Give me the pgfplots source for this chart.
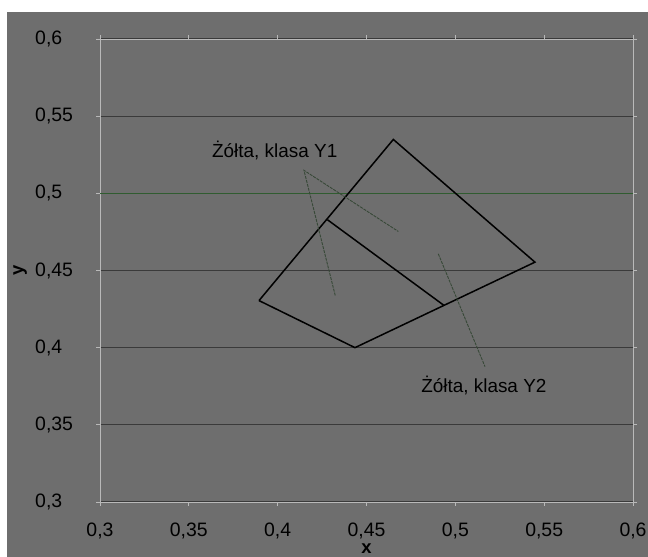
\documentclass[border=0pt]{standalone}
\usepackage{pgfplots}
\pgfplotsset{compat=1.18}
\usepackage{fontspec}
\setmainfont{Liberation Sans}

\definecolor{bg}{RGB}{110,110,110}
\definecolor{gridc}{RGB}{58,58,58}
\definecolor{gridg}{RGB}{48,92,48}
\definecolor{axc}{RGB}{185,185,185}
\definecolor{callout}{RGB}{55,72,55}

\newcommand{\chartfont}{\fontsize{19.5}{23}\selectfont}

\begin{document}
\begin{tikzpicture}[x=1bp,y=1bp]
\fill[white] (0,0) rectangle (648,557);
\useasboundingbox (0,0) rectangle (648,557);
\fill[bg] (7,0) rectangle (648,545);

\begin{axis}[
    at={(100bp,55bp)}, anchor=south west,
    scale only axis,
    width=533bp, height=463bp,
    xmin=0.3, xmax=0.6,
    ymin=0.3, ymax=0.6,
    xtick={0.3,0.35,0.4,0.45,0.5,0.55,0.6},
    ytick={0.3,0.35,0.4,0.45,0.5,0.55,0.6},
    /pgf/number format/.cd, use comma, fixed, precision=2, assume math mode=true,
    /pgfplots/.cd,
    scaled ticks=false,
    tick label style={font=\chartfont, text=black},
    xticklabel style={anchor=center, yshift=-25bp},
    yticklabel style={anchor=west, inner sep=0pt, xshift=-61bp},
    tick align=outside,
    major tick length=4bp,
    tick style={color=axc, line width=0.8bp},
    axis line style={color=axc, line width=0.9bp},
    ymajorgrids=true,
    major grid style={color=gridc, line width=1.3bp},
    xlabel={\textbf{x}},
    ylabel={\textbf{y}},
    label style={font=\fontsize{18.5}{22}\selectfont, text=black},
    xlabel style={at={(axis description cs:0.5,-0.101)}, anchor=center},
    ylabel style={at={(axis description cs:-0.150,0.5)}, anchor=center},
]

% green grid line at 0,5
\draw[gridg, line width=1.3bp] (axis cs:0.3,0.5) -- (axis cs:0.6,0.5);

% outline of the class region
\addplot[black, line width=1.5bp, mark=none, line join=miter]
    coordinates {
    (0.3895,0.4305)(0.4651,0.5349)(0.5448,0.4554)(0.4435,0.4000)(0.3895,0.4305)
    };
% dividing line
\addplot[black, line width=1.5bp, mark=none]
    coordinates {
    (0.4280,0.4829)(0.4937,0.4273)
    };

% callout lines
\addplot[callout, line width=0.9bp, mark=none, dash pattern=on 3bp off 1bp]
    coordinates {
    (0.4324,0.4338)(0.4148,0.5149)(0.4679,0.4753)
    };
\addplot[callout, line width=0.9bp, mark=none, dash pattern=on 3bp off 1bp]
    coordinates {
    (0.4904,0.4608)(0.5167,0.3877)
    };

\node[anchor=west, inner sep=0pt, font=\fontsize{19}{22}\selectfont]
    at (axis cs:0.3630,0.5279) {Żółta, klasa Y1};
\node[anchor=west, inner sep=0pt, font=\fontsize{19}{22}\selectfont]
    at (axis cs:0.4807,0.3753) {Żółta, klasa Y2};

\end{axis}
\end{tikzpicture}
\end{document}
